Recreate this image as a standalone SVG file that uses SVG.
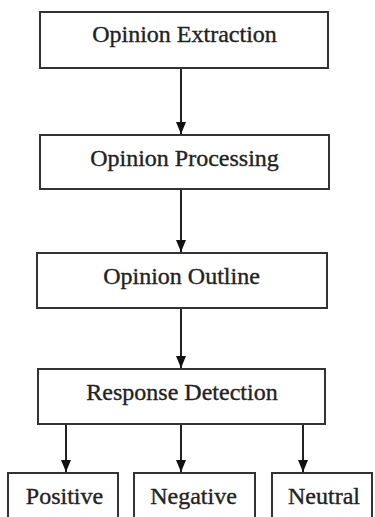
<svg xmlns="http://www.w3.org/2000/svg" width="375" height="517" viewBox="0 0 375 517">
<style>
.box{fill:#fff;stroke:#333;stroke-width:2}
.lbl{font-family:"Liberation Serif","Times New Roman",serif;font-size:24px;fill:#222;stroke:#222;stroke-width:0.35;text-anchor:middle}
.edge{stroke:#222;stroke-width:2;fill:none}
</style>
<defs>
<marker id="ah" viewBox="0 0 12 10" refX="12" refY="5" markerWidth="12" markerHeight="11" markerUnits="userSpaceOnUse" orient="auto">
<path d="M0,0 L12,5 L0,10 Z" fill="#111"/>
</marker>
</defs>
<rect width="375" height="517" fill="#fff"/>
<g id="connectors">
<line class="edge" x1="181" y1="68" x2="181" y2="134" marker-end="url(#ah)"/>
<line class="edge" x1="181" y1="189" x2="181" y2="252" marker-end="url(#ah)"/>
<line class="edge" x1="181" y1="308" x2="181" y2="368" marker-end="url(#ah)"/>
<line class="edge" x1="66" y1="424" x2="66" y2="472" marker-end="url(#ah)"/>
<line class="edge" x1="181" y1="424" x2="181" y2="472" marker-end="url(#ah)"/>
<line class="edge" x1="303" y1="424" x2="303" y2="472" marker-end="url(#ah)"/>
</g>
<g id="extraction">
<rect class="box" x="40" y="12" width="288" height="56"/>
<text class="lbl" x="184.5" y="42">Opinion Extraction</text>
</g>
<g id="processing">
<rect class="box" x="40" y="135" width="289" height="54"/>
<text class="lbl" x="184.5" y="166">Opinion Processing</text>
</g>
<g id="outline">
<rect class="box" x="37" y="253" width="290" height="55"/>
<text class="lbl" x="181.5" y="284">Opinion Outline</text>
</g>
<g id="detection">
<rect class="box" x="38" y="369" width="287" height="55"/>
<text class="lbl" x="182" y="400">Response Detection</text>
</g>
<g id="positive">
<rect class="box" x="8" y="473" width="110" height="60"/>
<text class="lbl" x="64.5" y="504">Positive</text>
</g>
<g id="negative">
<rect class="box" x="134" y="473" width="121" height="60"/>
<text class="lbl" x="193.5" y="504">Negative</text>
</g>
<g id="neutral">
<rect class="box" x="272" y="473" width="100" height="60"/>
<text class="lbl" x="324" y="504">Neutral</text>
</g>
</svg>
